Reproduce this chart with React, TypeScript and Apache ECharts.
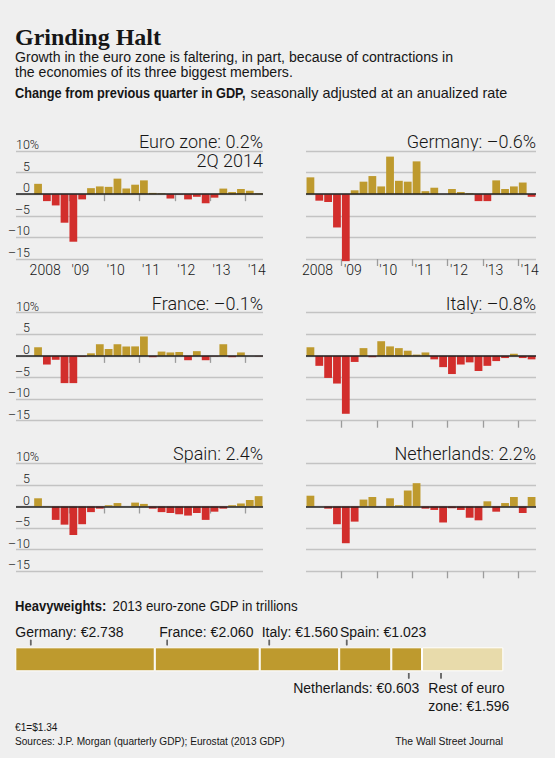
import { useEffect, useRef } from 'react';
import * as echarts from 'echarts';

// ---------- DATA ----------
const quarters = [
  '2008Q1', '2008Q2', '2008Q3', '2008Q4',
  '2009Q1', '2009Q2', '2009Q3', '2009Q4',
  '2010Q1', '2010Q2', '2010Q3', '2010Q4',
  '2011Q1', '2011Q2', '2011Q3', '2011Q4',
  '2012Q1', '2012Q2', '2012Q3', '2012Q4',
  '2013Q1', '2013Q2', '2013Q3', '2013Q4',
  '2014Q1', '2014Q2',
];
const yearLabels = ['2008', "'09", "'10", "'11", "'12", "'13", "'14"];

const euroZone = [2.4, -1.6, -2.6, -6.6, -11.0, -1.2, 1.4, 1.8, 1.7, 3.6, 1.3, 2.2, 3.2, 0.3, 0.2, -1.0, -0.1, -1.2, -0.6, -2.1, -0.8, 1.3, 0.5, 1.2, 0.8, 0.2];
const germany = [3.9, -1.5, -1.8, -7.7, -15.5, 0.9, 2.9, 4.2, 1.8, 8.7, 3.1, 2.9, 7.6, 0.7, 1.5, 0.0, 1.2, 0.5, 0.2, -1.6, -1.6, 3.2, 1.2, 1.8, 2.7, -0.6];
const france = [2.0, -2.0, -0.9, -6.3, -6.3, -0.2, 0.6, 2.7, 1.6, 2.7, 2.2, 2.2, 4.5, -0.3, 1.0, 0.8, 0.9, -1.0, 1.1, -1.0, -0.1, 2.7, -0.3, 0.8, 0.0, -0.1];
const italy = [2.0, -2.3, -5.1, -6.4, -13.4, -1.4, 1.8, -0.3, 3.4, 2.2, 1.8, 1.2, 0.3, 0.8, -0.8, -2.6, -4.2, -2.0, -1.5, -3.5, -2.3, -1.2, -0.5, 0.5, -0.5, -0.8];
const spain = [1.9, 0.1, -3.1, -4.2, -6.6, -4.1, -1.3, -0.5, 0.3, 0.8, 0.0, 0.9, 0.6, -0.5, -1.3, -1.5, -1.8, -2.1, -1.5, -3.1, -1.2, -0.5, 0.3, 0.7, 1.5, 2.4];
const netherlands = [2.5, 0.0, -0.5, -4.1, -8.5, -3.5, 1.6, 2.2, 0.0, 1.9, 0.3, 3.7, 5.4, -0.5, -0.8, -3.7, -0.4, -0.8, -2.6, -3.2, 1.2, -1.2, 0.8, 2.2, -1.5, 2.2];

const panelTitles = ['Euro zone: 0.2%', 'Germany: –0.6%', 'France: –0.1%', 'Italy: –0.8%', 'Spain: 2.4%', 'Netherlands: 2.2%'];
const panelSeries = [euroZone, germany, france, italy, spain, netherlands];
const latestQuarterLabel = '2Q 2014';

const yMin = -15;
const yMax = 10;
const yInterval = 5;

const gdpNames = ['Germany', 'France', 'Italy', 'Spain', 'Netherlands', 'Rest of euro\nzone'];
const gdpValues = [2.738, 2.06, 1.56, 1.023, 0.603, 1.596];

// ---------- STYLE / LAYOUT ----------
const BG = '#efefef';
const INK = '#161616';
const GOLD = '#be9a2e';
const RED = '#d22e2c';
const LIGHT_GOLD = '#e8dbab';
const GRIDLINE = '#c3c3c3';
const TICK = '#9c9c9c';
const LEADER = '#666666';
const SANS = '"Liberation Sans", Arial, sans-serif';
const LIGHTF = 'Roboto, "Liberation Sans", sans-serif';
const SERIF = '"Liberation Serif", "DejaVu Serif", serif';

const COLS = [
  { left: 16, width: 247, lead: 2 },
  { left: 306, width: 230, lead: 0 },
];
const ROW_TOP = [151, 312.7, 463.3];
const ROW_H = 108;
const GDP_TOP = 647.3;
const GDP_H = 24;

const gdpLabelLayout = [
  { side: 'top', dx: 0, tick: 15.4 },
  { side: 'top', dx: 4.5, tick: 8 },
  { side: 'top', dx: 2, tick: 7.6 },
  { side: 'top', dx: 0.8, tick: 6.7 },
  { side: 'bottomRight', dx: -2.7, tick: 10.6 },
  { side: 'bottom', dx: 6.3, tick: 12.7 },
];

const yLabelStyle = { fontSize: 12.5, fontFamily: LIGHTF, fontWeight: 300, color: INK };

function yLabel(v: number) {
  if (v === yMax) return '';
  if (v < 0) return `–${-v}`;
  return `${v}`;
}
function yTopLabel(v: number) {
  return v === yMax ? `${v}%` : '';
}

function buildOption() {
  const grids: any[] = [];
  const xAxes: any[] = [];
  const yAxes: any[] = [];
  const series: any[] = [];
  const graphics: any[] = [];
  const extraY: any[] = [];

  panelSeries.forEach((data, i) => {
    const colIdx = i % 2;
    const rowIdx = Math.floor(i / 2);
    const col = COLS[colIdx];
    const top = ROW_TOP[rowIdx];
    const lead = col.lead;
    grids.push({ left: col.left, top, width: col.width, height: ROW_H });

    const cats = [...Array.from({ length: lead }, (_, k) => `pad${k}`), ...quarters];
    const vals = [...Array.from({ length: lead }, () => null), ...data];

    // bar axis (hidden)
    xAxes.push({
      type: 'category', gridIndex: i, data: cats, show: false, position: 'top', boundaryGap: true,
    });
    // boundary axis: ticks and year labels
    const nB = cats.length + 1;
    const bData = Array.from({ length: nB }, (_, j) => `b${j}`);
    const yearAt = (j: number) => {
      const k = j - lead;
      if (k >= 0 && k % 4 === 0 && k / 4 < yearLabels.length) return yearLabels[k / 4];
      return null;
    };
    xAxes.push({
      type: 'category', gridIndex: i, data: bData, boundaryGap: false, position: 'bottom',
      axisLine: { show: false },
      splitLine: { show: false },
      axisTick: {
        show: true, length: 7, lineStyle: { color: TICK, width: 1.3 },
        interval: (j: number) => { const k = j - lead; return k > 0 && k % 4 === 0 && k < quarters.length; },
      },
      axisLabel: {
        show: rowIdx === 0,
        interval: (j: number) => yearAt(j) != null,
        formatter: (_v: string, j: number) => yearAt(j) ?? '',
        align: 'center', padding: [0, 0, 0, 23], margin: 4,
        fontSize: 14, fontFamily: LIGHTF, fontWeight: 300, color: INK,
      },
    });
    yAxes.push({
      type: 'value', gridIndex: i, min: yMin, max: yMax, interval: yInterval, position: 'left',
      axisLine: { show: false }, axisTick: { show: false },
      splitLine: { show: true, lineStyle: { color: GRIDLINE, width: 1.3 } },
      axisLabel: {
        show: colIdx === 0, inside: true, margin: 14, align: 'right', verticalAlign: 'bottom',
        formatter: yLabel, ...yLabelStyle,
      },
    });
    if (colIdx === 0) {
      // second axis carries only the top "10%" label, left-aligned so the % sign hangs
      extraY.push({
        type: 'value', gridIndex: i, min: yMin, max: yMax, interval: yInterval, position: 'left',
        axisLine: { show: false }, axisTick: { show: false }, splitLine: { show: false },
        axisLabel: {
          show: true, inside: true, margin: 0, align: 'left', verticalAlign: 'bottom',
          formatter: yTopLabel, ...yLabelStyle,
        },
      });
    }
    series.push({
      type: 'bar', name: panelTitles[i], xAxisIndex: 2 * i, yAxisIndex: i, data: vals,
      barCategoryGap: '12%', clip: false, silent: true,
      itemStyle: { color: (p: any) => (p.value >= 0 ? GOLD : RED) },
      markLine: {
        silent: true, symbol: ['none', 'none'], label: { show: false },
        lineStyle: { color: '#222', width: 1.5, type: 'solid' },
        data: [{ yAxis: 0 }],
      },
    });

    const titleX = col.left + col.width;
    graphics.push({
      type: 'text', x: titleX, y: top - 9.5, silent: true,
      style: { text: panelTitles[i], align: 'right', verticalAlign: 'middle', fontSize: 18, fontFamily: LIGHTF, fontWeight: 300, fill: INK },
    });
    if (i === 0) {
      graphics.push({
        type: 'text', x: titleX, y: top + 9.5, silent: true,
        style: { text: latestQuarterLabel, align: 'right', verticalAlign: 'middle', fontSize: 18, fontFamily: LIGHTF, fontWeight: 300, fill: INK },
      });
    }
  });

  // ---- Heavyweights stacked bar ----
  const gi = panelSeries.length;
  const total = gdpValues.reduce((a, b) => a + b, 0);
  grids.push({ left: 15.3, top: GDP_TOP, width: 488, height: GDP_H });
  xAxes.push({ type: 'value', gridIndex: gi, min: 0, max: total, show: false });
  const gdpYIndex = yAxes.length;
  yAxes.push({ type: 'category', gridIndex: gi, data: ['2013'], show: false });
  yAxes.push(...extraY);
  const LBL = 14;
  const half = GDP_H / 2;
  let cum = 0;
  gdpValues.forEach((v, k) => {
    const lay = gdpLabelLayout[k];
    const txt = `${gdpNames[k]}: €${v.toFixed(3)}`;
    const rich = {
      s: { height: 5.3, lineHeight: 5.3, fontSize: 5 },
      n: { align: 'right', fontSize: LBL, lineHeight: 18, fontFamily: SANS, color: INK },
    };
    let label: any;
    let tickValue: number;
    let tickOffset: number[];
    if (lay.side === 'top') {
      label = {
        show: true, position: ['0%', '0%'], offset: [lay.dx, -2], align: 'left', verticalAlign: 'bottom',
        formatter: `${txt}\n{s| }`, lineHeight: 17,
      };
      tickValue = cum;
      tickOffset = [lay.dx + lay.tick, -(half + 2 + 2.75)];
    } else if (lay.side === 'bottomRight') {
      label = {
        show: true, position: ['100%', '100%'], offset: [lay.dx, 2], align: 'right', verticalAlign: 'top',
        formatter: `{s| }\n{n|${txt}}`, lineHeight: 18,
      };
      tickValue = cum + v;
      tickOffset = [lay.dx - lay.tick, half + 2 + 2.5];
    } else {
      label = {
        show: true, position: ['0%', '100%'], offset: [lay.dx, 2], align: 'left', verticalAlign: 'top',
        formatter: `{s| }\n${txt}`, lineHeight: 18,
      };
      tickValue = cum;
      tickOffset = [lay.dx + lay.tick, half + 2 + 2.5];
    }
    cum += v;
    series.push({
      type: 'bar', name: gdpNames[k], stack: 'gdp', xAxisIndex: 2 * gi, yAxisIndex: gdpYIndex,
      barWidth: GDP_H, data: [v], silent: true,
      itemStyle: { color: k === gdpValues.length - 1 ? LIGHT_GOLD : GOLD, borderColor: '#ffffff', borderWidth: 1 },
      label: { ...label, fontSize: LBL, fontFamily: SANS, color: INK, rich },
      // leader tick linking the label to its segment, placed through the GDP axis scale
      markPoint: {
        silent: true, symbol: 'rect', symbolSize: [1.5, 5.5], symbolOffset: tickOffset,
        itemStyle: { color: LEADER, opacity: 1 },
        label: { show: false },
        data: [{ coord: [tickValue, 0], symbolOffset: tickOffset }],
      },
    });
    series.push({
      type: 'scatter', name: `leader${k}`, xAxisIndex: 2 * gi, yAxisIndex: gdpYIndex, silent: true,
      symbol: 'rect', symbolSize: [1.5, 5.5], symbolOffset: tickOffset, z: 10, clip: false,
      itemStyle: { color: LEADER, opacity: 1 },
      label: { show: false },
      data: [[tickValue, 0]],
    });
  });

  // ---- text blocks ----
  const T = (x: number, y: number, text: string, sx: number, extra: any = {}) => ({
    type: 'text', x, y, scaleX: sx, silent: true,
    style: { text, fill: INK, fontSize: 15, fontFamily: SANS, verticalAlign: 'middle', align: 'left', ...extra },
  });
  graphics.push(T(15, 37, 'Grinding Halt', 1, { fontSize: 24, fontFamily: SERIF, fontWeight: 'bold' }));
  graphics.push(T(15, 56.5, 'Growth in the euro zone is faltering, in part, because of contractions in', 0.942));
  graphics.push(T(15, 72, 'the economies of its three biggest members.', 0.942));
  graphics.push(T(15, 93, 'Change from previous quarter in GDP,', 0.85, { fontWeight: 'bold' }));
  graphics.push(T(250.5, 93, 'seasonally adjusted at an anualized rate', 0.96));
  graphics.push(T(15, 605.5, 'Heavyweights:', 0.87, { fontWeight: 'bold' }));
  graphics.push(T(112.5, 605.5, '2013 euro-zone GDP in trillions', 0.89));
  graphics.push(T(15, 726.5, '€1=$1.34', 0.88, { fontSize: 11.5 }));
  graphics.push(T(15, 741, 'Sources: J.P. Morgan (quarterly GDP); Eurostat (2013 GDP)', 0.88, { fontSize: 11.5 }));
  graphics.push({
    type: 'text', x: 503, y: 741, scaleX: 0.9, silent: true,
    style: { text: 'The Wall Street Journal', fill: INK, fontSize: 11.5, fontFamily: SANS, verticalAlign: 'middle', align: 'right' },
  });

  return {
    backgroundColor: BG,
    animation: false,
    grid: grids,
    xAxis: xAxes,
    yAxis: yAxes,
    series,
    graphic: { elements: graphics },
  };
}

export default function App() {
  const ref = useRef<HTMLDivElement>(null);
  useEffect(() => {
    document.body.style.margin = '0';
    document.body.style.background = BG;
    const chart = echarts.init(ref.current as HTMLDivElement, null, { renderer: 'svg' });
    chart.setOption(buildOption() as any);
    return () => chart.dispose();
  }, []);
  return <div ref={ref} style={{ position: 'absolute', left: 0, top: 0, width: 555, height: 758 }} />;
}
